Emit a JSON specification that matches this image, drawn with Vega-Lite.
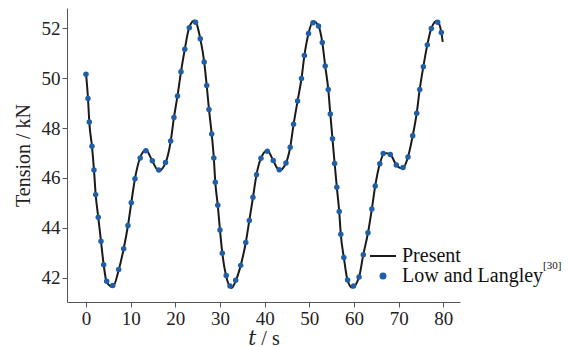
{
  "$schema": "https://vega.github.io/schema/vega-lite/v6.json",
  "width": 393,
  "height": 294,
  "autosize": "none",
  "padding": {"left": 67, "top": 8, "right": 108, "bottom": 45},
  "background": "white",
  "config": {
    "view": {"stroke": null},
    "font": "'Liberation Serif', 'Times New Roman', 'DejaVu Serif', serif",
    "axis": {
      "grid": false,
      "domainColor": "#555",
      "tickColor": "#555",
      "tickSize": 5,
      "labelFont": "'Liberation Serif', 'Times New Roman', 'DejaVu Serif', serif",
      "titleFont": "'Liberation Serif', 'Times New Roman', 'DejaVu Serif', serif",
      "labelFontSize": 19,
      "titleFontSize": 20,
      "labelColor": "#222",
      "titleColor": "#222",
      "titleFontWeight": "normal",
      "labelPadding": 2
    }
  },
  "datasets": {
    "pts": [
      {"t": 0, "T": 50.16}, {"t": 0.45, "T": 49.19}, {"t": 0.74, "T": 48.24}, {"t": 1.34, "T": 47.27},
      {"t": 1.79, "T": 46.32}, {"t": 2.17, "T": 45.33}, {"t": 2.75, "T": 44.42}, {"t": 3.36, "T": 43.46},
      {"t": 3.96, "T": 42.52}, {"t": 4.63, "T": 41.85}, {"t": 5.98, "T": 41.68}, {"t": 7.32, "T": 42.32},
      {"t": 8.44, "T": 43.16}, {"t": 9.40, "T": 44.09}, {"t": 10.14, "T": 45.0}, {"t": 10.97, "T": 45.97},
      {"t": 12.14, "T": 46.8}, {"t": 13.43, "T": 47.09}, {"t": 14.85, "T": 46.69}, {"t": 16.3, "T": 46.32},
      {"t": 17.8, "T": 46.62}, {"t": 18.97, "T": 47.48}, {"t": 19.7, "T": 48.43}, {"t": 20.49, "T": 49.29},
      {"t": 21.27, "T": 50.26}, {"t": 22.12, "T": 51.16}, {"t": 23.13, "T": 52.03}, {"t": 24.52, "T": 52.25},
      {"t": 25.59, "T": 51.59}, {"t": 26.47, "T": 50.65}, {"t": 27.03, "T": 49.71}, {"t": 27.54, "T": 48.75},
      {"t": 28.15, "T": 47.76}, {"t": 28.62, "T": 46.8}, {"t": 28.95, "T": 45.83}, {"t": 29.51, "T": 44.9},
      {"t": 30.0, "T": 43.91}, {"t": 30.52, "T": 42.98}, {"t": 31.39, "T": 42.08}, {"t": 32.24, "T": 41.66},
      {"t": 33.52, "T": 41.89}, {"t": 34.64, "T": 42.49}, {"t": 35.78, "T": 43.41}, {"t": 36.57, "T": 44.29},
      {"t": 37.39, "T": 45.22}, {"t": 38.18, "T": 46.13}, {"t": 39.18, "T": 46.79}, {"t": 40.6, "T": 47.07},
      {"t": 41.92, "T": 46.7}, {"t": 43.28, "T": 46.33}, {"t": 44.78, "T": 46.6}, {"t": 45.72, "T": 47.23},
      {"t": 46.48, "T": 48.15}, {"t": 47.38, "T": 49.09}, {"t": 48.25, "T": 49.99}, {"t": 48.9, "T": 50.91},
      {"t": 49.82, "T": 51.8}, {"t": 50.83, "T": 52.23}, {"t": 52.06, "T": 52.1}, {"t": 52.91, "T": 51.44},
      {"t": 53.56, "T": 50.49}, {"t": 54.25, "T": 49.55}, {"t": 54.7, "T": 48.57}, {"t": 55.19, "T": 47.57},
      {"t": 55.67, "T": 46.58}, {"t": 56.16, "T": 45.63}, {"t": 56.7, "T": 44.65}, {"t": 57.05, "T": 43.74},
      {"t": 57.73, "T": 42.81}, {"t": 58.58, "T": 41.9}, {"t": 59.9, "T": 41.66}, {"t": 61.13, "T": 42.02},
      {"t": 62.09, "T": 42.92}, {"t": 63.14, "T": 43.8}, {"t": 64.0, "T": 44.75}, {"t": 64.76, "T": 45.68},
      {"t": 65.79, "T": 46.57}, {"t": 66.55, "T": 46.98}, {"t": 68.14, "T": 46.94}, {"t": 69.48, "T": 46.52},
      {"t": 70.98, "T": 46.42}, {"t": 72.1, "T": 46.84}, {"t": 73.15, "T": 47.69}, {"t": 74.05, "T": 48.6},
      {"t": 74.72, "T": 49.55}, {"t": 75.53, "T": 50.46}, {"t": 76.42, "T": 51.34}, {"t": 77.32, "T": 52.0},
      {"t": 78.75, "T": 52.25}, {"t": 79.56, "T": 51.84}
    ],
    "line": [
      {"t": 0, "T": 50.2}, {"t": 0.45, "T": 49.19}, {"t": 0.74, "T": 48.24}, {"t": 1.34, "T": 47.27},
      {"t": 1.79, "T": 46.32}, {"t": 2.17, "T": 45.33}, {"t": 2.75, "T": 44.42}, {"t": 3.36, "T": 43.46},
      {"t": 3.96, "T": 42.52}, {"t": 4.63, "T": 41.82}, {"t": 5.98, "T": 41.62}, {"t": 7.32, "T": 42.3},
      {"t": 8.44, "T": 43.16}, {"t": 9.4, "T": 44.09}, {"t": 10.14, "T": 45.0}, {"t": 10.97, "T": 45.97},
      {"t": 12.14, "T": 46.82}, {"t": 13.43, "T": 47.12}, {"t": 14.85, "T": 46.68}, {"t": 16.3, "T": 46.28},
      {"t": 17.8, "T": 46.6}, {"t": 18.97, "T": 47.48}, {"t": 19.7, "T": 48.43}, {"t": 20.49, "T": 49.29},
      {"t": 21.27, "T": 50.26}, {"t": 22.12, "T": 51.16}, {"t": 23.13, "T": 52.05}, {"t": 24.3, "T": 52.32},
      {"t": 25.59, "T": 51.59}, {"t": 26.47, "T": 50.65}, {"t": 27.03, "T": 49.71}, {"t": 27.54, "T": 48.75},
      {"t": 28.15, "T": 47.76}, {"t": 28.62, "T": 46.8}, {"t": 28.95, "T": 45.83}, {"t": 29.51, "T": 44.9},
      {"t": 30.0, "T": 43.91}, {"t": 30.52, "T": 42.98}, {"t": 31.39, "T": 42.05}, {"t": 32.6, "T": 41.58},
      {"t": 33.52, "T": 41.87}, {"t": 34.64, "T": 42.49}, {"t": 35.78, "T": 43.41}, {"t": 36.57, "T": 44.29},
      {"t": 37.39, "T": 45.22}, {"t": 38.18, "T": 46.13}, {"t": 39.18, "T": 46.79}, {"t": 40.6, "T": 47.1},
      {"t": 41.92, "T": 46.7}, {"t": 43.28, "T": 46.3}, {"t": 44.78, "T": 46.6}, {"t": 45.72, "T": 47.23},
      {"t": 46.48, "T": 48.15}, {"t": 47.38, "T": 49.09}, {"t": 48.25, "T": 49.99}, {"t": 48.9, "T": 50.91},
      {"t": 49.82, "T": 51.8}, {"t": 50.9, "T": 52.29}, {"t": 52.06, "T": 52.1}, {"t": 52.91, "T": 51.44},
      {"t": 53.56, "T": 50.49}, {"t": 54.25, "T": 49.55}, {"t": 54.7, "T": 48.57}, {"t": 55.19, "T": 47.57},
      {"t": 55.67, "T": 46.58}, {"t": 56.16, "T": 45.63}, {"t": 56.7, "T": 44.65}, {"t": 57.05, "T": 43.74},
      {"t": 57.73, "T": 42.81}, {"t": 58.58, "T": 41.88}, {"t": 59.6, "T": 41.6}, {"t": 61.13, "T": 42.02},
      {"t": 62.09, "T": 42.92}, {"t": 63.14, "T": 43.8}, {"t": 64.0, "T": 44.75}, {"t": 64.76, "T": 45.68},
      {"t": 65.79, "T": 46.57}, {"t": 66.9, "T": 47.0}, {"t": 68.14, "T": 46.94}, {"t": 69.48, "T": 46.52},
      {"t": 70.8, "T": 46.38}, {"t": 72.1, "T": 46.84}, {"t": 73.15, "T": 47.69}, {"t": 74.05, "T": 48.6},
      {"t": 74.72, "T": 49.55}, {"t": 75.53, "T": 50.46}, {"t": 76.42, "T": 51.34}, {"t": 77.32, "T": 52.0},
      {"t": 78.6, "T": 52.31}, {"t": 79.56, "T": 51.84}, {"t": 79.87, "T": 51.46}
    ],
    "note": [{"t": 102.35, "T": 42.45, "label": "[30]"}]
  },
  "encoding": {
    "x": {
      "field": "t", "type": "quantitative",
      "scale": {"domain": [-4.25, 83.74], "nice": false, "zero": false},
      "axis": {"values": [0, 10, 20, 30, 40, 50, 60, 70, 80], "title": "𝑡 / s", "titlePadding": 0}
    },
    "y": {
      "field": "T", "type": "quantitative",
      "scale": {"domain": [41.02, 52.82], "nice": false, "zero": false},
      "axis": {"values": [42, 44, 46, 48, 50, 52], "title": "Tension / kN", "titlePadding": 8}
    }
  },
  "layer": [
    {
      "data": {"name": "line"},
      "mark": {"type": "line", "interpolate": "monotone", "strokeWidth": 2},
      "encoding": {
        "color": {
          "datum": "Present",
          "type": "nominal",
          "scale": {"domain": ["Present", "Low and Langley"], "range": ["#1a1a1a", "#1f5fa8"]},
          "legend": {
            "orient": "none",
            "legendX": 306,
            "legendY": 238,
            "title": null,
            "padding": 0,
            "labelFont": "'Liberation Serif', 'Times New Roman', 'DejaVu Serif', serif",
            "labelFontSize": 20,
            "labelColor": "#111",
            "labelOffset": 9,
            "rowPadding": -2,
            "symbolStrokeWidth": 2,
            "encode": {
              "symbols": {
                "update": {
                  "shape": {"signal": "datum.value === 'Present' ? 'stroke' : 'circle'"},
                  "size": {"signal": "datum.value === 'Present' ? 676 : 25"},
                  "fill": {"signal": "datum.value === 'Present' ? 'transparent' : '#1f5fa8'"},
                  "stroke": {"signal": "datum.value === 'Present' ? '#1a1a1a' : 'transparent'"},
                  "strokeWidth": {"value": 2},
                  "opacity": {"value": 1}
                }
              }
            }
          }
        }
      }
    },
    {
      "data": {"name": "pts"},
      "mark": {"type": "point", "filled": true, "size": 30, "opacity": 1},
      "encoding": {
        "color": {"datum": "Low and Langley", "type": "nominal"}
      }
    },
    {
      "data": {"name": "note"},
      "mark": {"type": "text", "align": "left", "baseline": "middle", "fontSize": 11, "font": "'Liberation Serif', 'Times New Roman', 'DejaVu Serif', serif", "color": "#111", "clip": false},
      "encoding": {"text": {"field": "label"}}
    }
  ]
}
